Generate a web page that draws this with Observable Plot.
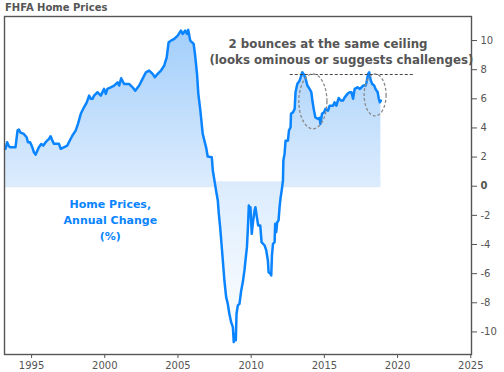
<!DOCTYPE html>
<html>
<head>
<meta charset="utf-8">
<script src="https://cdn.jsdelivr.net/npm/d3@7"></script>
<script src="https://cdn.jsdelivr.net/npm/@observablehq/plot@0.6"></script>
<style>
  html, body { margin: 0; padding: 0; background: #fff; }
  #title { font: bold 10px "DejaVu Sans", sans-serif; color: #555; height: 15px; line-height: 15px; padding-left: 5px; white-space: nowrap; }
  #chart svg { display: block; }
</style>
</head>
<body>
<svg width="0" height="0" style="position:absolute">
  <defs>
    <linearGradient id="homeGrad" x1="0" y1="0" x2="0" y2="1">
      <stop offset="0%" stop-color="#a2cefb"/>
      <stop offset="50%" stop-color="#dcecfd"/>
      <stop offset="100%" stop-color="#ffffff"/>
    </linearGradient>
  </defs>
</svg>
<div id="title">FHFA Home Prices</div>
<div id="chart"></div>
<script>
// ---- data ----
const years = [
  1993.22,1993.33,1993.45,1993.55,1993.9,1994.04,1994.13,1994.25,1994.47,1994.66,1994.75,1994.9,
  1995.05,1995.16,1995.27,1995.5,1995.66,1995.8,1995.96,1996.19,1996.3,1996.42,1996.53,1996.87,
  1996.99,1997.2,1997.44,1997.55,1997.79,1998.01,1998.17,1998.36,1998.58,1998.77,1998.93,1999.05,
  1999.16,1999.27,1999.5,1999.73,1999.95,2000.07,2000.18,2000.41,2000.64,2000.87,2000.98,2001.12,
  2001.32,2001.66,2001.9,2002.08,2002.35,2002.58,2002.81,2003.03,2003.27,2003.42,2003.61,2003.84,
  2004.06,2004.23,2004.36,2004.52,2004.75,2004.98,2005.2,2005.32,2005.5,2005.62,2005.7,2005.84,
  2006.07,2006.16,2006.3,2006.39,2006.53,2006.69,2006.92,2007.03,2007.31,2007.38,2007.53,2007.6,
  2007.72,2007.79,2007.88,2008.01,2008.1,2008.17,2008.29,2008.4,2008.51,2008.63,2008.75,2008.81,
  2008.9,2008.95,2009.0,2009.09,2009.2,2009.32,2009.43,2009.54,2009.61,2009.71,2009.78,2009.84,
  2009.88,2009.95,2010.04,2010.11,2010.23,2010.29,2010.39,2010.48,2010.62,2010.71,2010.92,2011.03,
  2011.14,2011.19,2011.32,2011.37,2011.42,2011.49,2011.6,2011.64,2011.71,2011.78,2011.87,2011.94,
  2012.0,2012.1,2012.17,2012.2,2012.28,2012.35,2012.51,2012.58,2012.69,2012.72,2012.86,2012.97,
  2013.03,2013.15,2013.31,2013.42,2013.49,2013.61,2013.72,2013.84,2013.99,2014.11,2014.18,2014.27,
  2014.38,2014.57,2014.68,2014.73,2014.84,2014.98,2015.07,2015.25,2015.36,2015.59,2015.7,2015.82,
  2015.98,2016.12,2016.27,2016.39,2016.58,2016.73,2016.85,2016.96,2017.07,2017.26,2017.43,2017.65,
  2017.81,2017.88,2017.99,2018.06,2018.17,2018.27,2018.4,2018.49,2018.64,2018.72,2018.79,2018.86
];
const values = [
  2.57,3.02,2.75,2.67,2.67,3.82,3.89,3.68,3.59,3.36,3.02,3.02,
  2.67,2.33,2.17,2.67,2.9,2.79,3.02,3.25,3.43,3.13,2.91,2.91,
  2.57,2.67,2.79,3.02,3.48,3.82,4.28,4.97,5.42,5.76,6.22,6.0,
  6.0,6.22,6.45,6.22,6.68,6.34,6.68,6.79,6.91,7.13,6.91,7.41,
  7.02,7.02,6.79,6.56,6.91,7.37,7.82,7.94,7.71,7.48,7.71,7.94,
  8.28,8.85,9.88,9.99,10.11,10.34,10.68,10.45,10.68,10.45,10.73,9.99,
  9.77,9.08,7.71,6.34,5.19,3.59,2.67,2.04,1.99,1.08,0.16,-0.29,
  -0.98,-1.9,-2.81,-4.41,-5.56,-6.47,-7.61,-8.07,-8.75,-9.33,-9.67,-10.7,
  -10.12,-10.58,-8.75,-8.18,-8.07,-7.15,-6.58,-5.78,-5.1,-4.18,-2.81,-1.32,
  -1.9,-1.44,-3.27,-2.58,-1.67,-1.44,-2.13,-2.7,-2.7,-3.84,-4.07,-4.41,
  -5.1,-5.9,-6.01,-6.12,-4.75,-3.95,-3.84,-2.58,-3.15,-2.47,-2.35,-1.44,
  -0.86,-0.18,0.39,1.76,2.22,3.13,3.13,3.82,4.05,4.97,5.08,5.31,
  6.45,7.02,7.25,7.59,7.82,7.66,7.37,6.91,6.68,6.45,5.88,5.31,
  4.73,4.62,4.7,4.28,4.97,5.08,5.31,5.19,5.53,5.53,5.76,5.53,
  6.06,5.88,5.88,6.1,6.34,6.45,6.45,6.0,6.68,6.79,6.68,6.91,
  6.91,7.13,7.71,7.82,7.25,7.02,6.91,6.68,6.45,6.0,5.76,5.88
];
const xTicks = [1995, 2000, 2005, 2010, 2015, 2020, 2025];
const yTicks = [-10, -8, -6, -4, -2, 0, 2, 4, 6, 8, 10];

// annotations
const annotationLines = [
  {year: 2015.25, value: 9.77, text: "2 bounces at the same ceiling"},
  {year: 2016.16, value: 8.67, text: "(looks ominous or suggests challenges)"}
];
const seriesLabel = [{year: 2000.38, value: -2.24, text: "Home Prices,\nAnnual Change\n(%)"}];
const ceiling = [{value: 7.67, from: 2012.67, to: 2021.1}];
const bounceEllipses = [
  {year: 2014.25, value: 5.79, rYears: 0.96, rValue: 1.88},
  {year: 2018.5, value: 6.23, rYears: 0.75, rValue: 1.44}
];

// ---- build ----
const series = years.map((y, i) => ({year: y, value: values[i]}));
const blue = "#0a84ff";
const grey = "#555";
const fontFamily = "DejaVu Sans, sans-serif";

function ellipseMark(rows) {
  return function (index, scales) {
    const ns = "http://www.w3.org/2000/svg";
    const g = document.createElementNS(ns, "g");
    const sx = scales && scales.x, sy = scales && scales.y;
    if (typeof sx !== "function" || typeof sy !== "function") return g;
    for (const r of rows) {
      const cx = sx(r.year), cy = sy(r.value);
      const e = document.createElementNS(ns, "ellipse");
      e.setAttribute("cx", cx);
      e.setAttribute("cy", cy);
      e.setAttribute("rx", Math.abs(sx(r.year + r.rYears) - cx));
      e.setAttribute("ry", Math.abs(sy(r.value + r.rValue) - cy));
      e.setAttribute("fill", "none");
      e.setAttribute("stroke", "#8a8a8a");
      e.setAttribute("stroke-width", "1.3");
      e.setAttribute("stroke-dasharray", "3,2");
      g.appendChild(e);
    }
    return g;
  };
}

const fmt = d => String(d);

const plot = Plot.plot({
  width: 504,
  height: 357,
  marginLeft: 4,
  marginRight: 33,
  marginTop: 1,
  marginBottom: 18,
  style: {fontFamily, fontSize: "10px", color: grey, background: "white"},
  x: {domain: [1993.15, 2025.05], label: null},
  y: {domain: [-11.55, 11.65], label: null},
  marks: [
    Plot.ruleY([0], {x1: years[0], x2: years[years.length - 1], stroke: "#dcebfb", strokeWidth: 6, dy: -2}),
    Plot.areaY(series, {x: "year", y: "value", fill: "url(#homeGrad)"}),
    Plot.line(series, {x: "year", y: "value", stroke: blue, strokeWidth: 2.5}),
    Plot.ruleY(ceiling, {y: "value", x1: "from", x2: "to", stroke: "#444", strokeWidth: 1, strokeDasharray: "3,2"}),
    ellipseMark(bounceEllipses),
    Plot.text(annotationLines, {x: "year", y: "value", text: "text", fill: grey, fontWeight: "bold", fontSize: 11.8, fontFamily}),
    Plot.text(seriesLabel, {x: "year", y: "value", text: "text", fill: blue, fontWeight: "bold", fontSize: 11, lineHeight: 1.48, fontFamily}),
    Plot.frame({stroke: grey, strokeWidth: 1.4}),
    Plot.axisX({ticks: xTicks, tickFormat: fmt, tickSize: 4, tickPadding: 3, label: null, fontSize: 10}),
    Plot.axisY({anchor: "right", ticks: yTicks, tickFormat: fmt, tickSize: 5, tickPadding: 4, label: null, fontSize: 10})
  ]
});

d3.select(plot).selectAll("text")
  .filter(function () { return this.textContent === "0"; })
  .attr("font-weight", "bold");

document.getElementById("chart").appendChild(plot);
</script>
</body>
</html>
